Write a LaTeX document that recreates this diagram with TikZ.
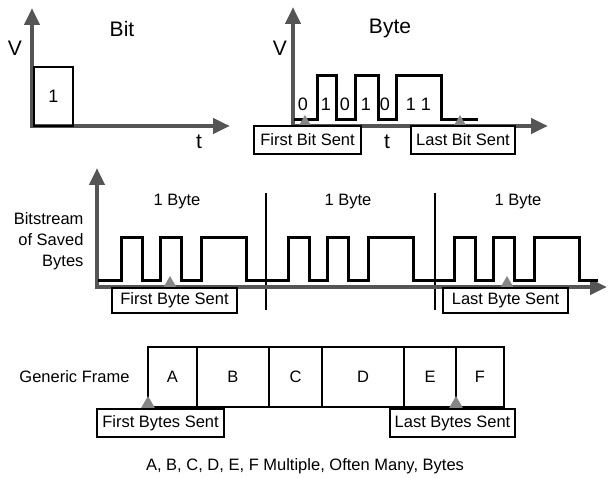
\documentclass[tikz,border=0pt]{standalone}
\usepackage{fontspec}
\setmainfont{Liberation Sans}
\usepackage{tikz}
\usetikzlibrary{arrows.meta,positioning,shapes.geometric}
\definecolor{axisgray}{HTML}{555555}
\definecolor{markgray}{HTML}{868686}
\newcommand\titlefont{\fontsize{21}{25}\selectfont}
\newcommand\labelfont{\fontsize{16.5}{21}\selectfont}
\newcommand\digitfont{\fontsize{18}{22}\selectfont}
\tikzset{
  axis/.style   = {line width=4.5pt, draw=axisgray, line join=miter,
                   {Triangle[length=17pt,width=15pt]}-{Triangle[length=17pt,width=15pt]}},
  wave/.style   = {line width=3pt, line join=miter},
  marker/.style = {regular polygon, regular polygon sides=3, fill=markgray, draw=none,
                   inner sep=0pt, outer sep=0pt, minimum size=16pt, anchor=corner 1},
  tag/.style    = {draw, line width=1.2pt, fill=white, font=\labelfont, inner sep=0pt},
  cell/.style   = {draw, line width=2.5pt, minimum height=60pt, outer sep=0pt,
                   inner sep=0pt, font=\labelfont},
  divider/.style= {line width=2.2pt},
}
\begin{document}
\begin{tikzpicture}[x=1pt,y=-1pt]
  \useasboundingbox (0,0) rectangle (608,478);
  % bit
  \draw[axis] (32,8) -- (32,126) -- (230,126);
  \node[draw, line width=2.5pt, minimum width=39pt, minimum height=59pt,
        inner sep=0pt, font=\digitfont] (one) at (53.5,96.5) {1};
  \node[font=\titlefont] (vbit) at (15,48) {V};
  \node[font=\titlefont] (tbit) at (199,142) {t};
  \node[font=\titlefont] (bit) at (122,29) {Bit};
  % byte
  \draw[axis] (293,7) -- (293,126) -- (548,126);
  \draw[wave] (294,120) -- (317,120) -- (317,76) -- (336,76) -- (336,120)
    -- (355,120) -- (355,76) -- (378,76) -- (378,120) -- (396,120) -- (396,76)
    -- (441,76) -- (441,120) -- (478,120);
  \foreach \x/\d in {303/0,326/1,345/0,366/1,385/0,411/1,426/1}
    \node[font=\digitfont] at (\x,104) {\d};
  \node[font=\titlefont] (vbyte) at (280,48) {V};
  \node[font=\titlefont] (tbyte) at (387,142) {t};
  \node[font=\titlefont] (byte) at (390,28) {Byte};
  \node[marker] (fbit) at (305,115) {};
  \node[marker] (lbit) at (460,115) {};
  \node[tag, minimum width=107pt, minimum height=28pt] (firstbit) at (307.5,140) {First Bit Sent};
  \node[tag, minimum width=104pt, minimum height=28pt] (lastbit) at (463,140) {Last Bit Sent};
  % bitstream
  \draw[divider] (266,193) -- (266,310);
  \draw[divider] (435,193) -- (435,310);
  \draw[axis] (97,168) -- (97,287) -- (607,287);
  \draw[wave] (98,281) foreach \s in {121,288,454} {
      -- (\s,281) -- (\s,238) -- (\s+21,238) -- (\s+21,281)
      -- (\s+39,281) -- (\s+39,238) -- (\s+60,238) -- (\s+60,281)
      -- (\s+80,281) -- (\s+80,238) -- (\s+125,238) -- (\s+125,281)
    } -- (598,281);
  \foreach \x in {177,348,518}
    \node[font=\labelfont] at (\x,202) {1 Byte};
  \node[font=\labelfont, align=right, anchor=east] (stream) at (87,241)
    {Bitstream\\of Saved\\Bytes};
  \node[marker] (fbyte) at (170,276) {};
  \node[marker] (lbyte) at (507,276) {};
  \node[tag, minimum width=125pt, minimum height=25pt] (firstbyte) at (174.5,300.5) {First Byte Sent};
  \node[tag, minimum width=125pt, minimum height=25pt] (lastbyte) at (505.5,300.5) {Last Byte Sent};
  % frame
  \node[cell, minimum width=49pt] (A) at (172.5,377) {A};
  \node[cell, minimum width=72pt, right=0pt of A] (B) {B};
  \node[cell, minimum width=53pt, right=0pt of B] (C) {C};
  \node[cell, minimum width=82pt, right=0pt of C] (D) {D};
  \node[cell, minimum width=52pt, right=0pt of D] (E) {E};
  \node[cell, minimum width=48pt, right=0pt of E] (F) {F};
  \node[font=\labelfont, anchor=east] (generic) at (133,377) {Generic Frame};
  \node[marker] (fbytes) at (148,396) {};
  \node[marker] (lbytes) at (456,396) {};
  \node[tag, minimum width=127pt, minimum height=28pt] (firstbytes) at (160.5,423) {First Bytes Sent};
  \node[tag, minimum width=125pt, minimum height=28pt] (lastbytes) at (452.5,423) {Last Bytes Sent};
  \node[font=\labelfont] (note) at (305,466) {A, B, C, D, E, F Multiple, Often Many, Bytes};
\end{tikzpicture}
\end{document}
